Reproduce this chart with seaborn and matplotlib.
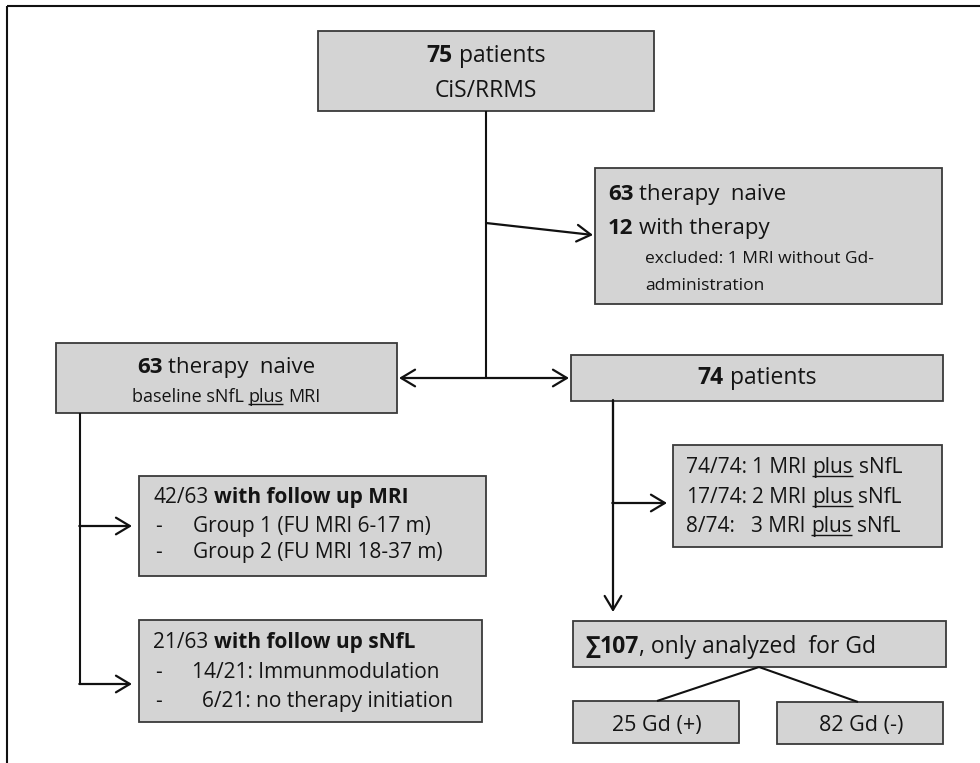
import matplotlib
matplotlib.use("Agg")
import matplotlib.pyplot as plt
import seaborn as sns
from matplotlib.patches import Rectangle, FancyArrowPatch

sns.set_theme(style="white")
plt.rcParams['font.family'] = ['Open Sans', 'DejaVu Sans']

# ---------------- data (counts shown in the flow chart) ----------------
total_patients = 75
cohort_label = "CiS/RRMS"
therapy_naive = 63
with_therapy = 12
analysed_patients = 74
fu_mri = 42
fu_snfl = 21
immunmodulation = 14
no_therapy = 6
mri_numbers = [1, 2, 3]
mri_patients = [74, 17, 8]
gd_total = 107
gd_positive = 25
gd_negative = 82
fu_groups = ["Group 1 (FU MRI 6-17 m)", "Group 2 (FU MRI 18-37 m)"]

# ---------------- styles ----------------
BOX_FC = "#d4d4d4"
BOX_EC = "#3a3a3a"
LINE_C = "#111111"
TXT_C = "#141414"

fig = plt.figure(figsize=(9.8, 7.63), dpi=100)
ax = fig.add_axes([0, 0, 1, 1])
ax.set_xlim(0, 980)
ax.set_ylim(763, 0)
ax.axis("off")
renderer = fig.canvas.get_renderer()
PX = 100 / 72.0


def text_width(s, size, bold):
    t = ax.text(0, 0, s, fontsize=size, fontweight="bold" if bold else "normal")
    w = t.get_window_extent(renderer).width
    t.remove()
    return w


def rich(x, baseline, parts, size, ha="left"):
    """parts: list of (leading_spaces, text, bold, underline)"""
    sp_reg = text_width("a a", size, False) - text_width("aa", size, False)
    widths = []
    for lead, s, b, u in parts:
        widths.append((lead * sp_reg, text_width(s, size, b)))
    total = sum(a + b for a, b in widths)
    cx = x - total / 2 if ha == "center" else x
    for (lead, s, b, u), (lw, w) in zip(parts, widths):
        cx += lw
        ax.text(cx, baseline, s, fontsize=size, fontweight="bold" if b else "normal",
                va="baseline", ha="left", color=TXT_C)
        if u:
            uy = baseline + 0.13 * size * PX
            ax.plot([cx, cx + w], [uy, uy], color=TXT_C, lw=1.0, solid_capstyle="butt")
        cx += w


def box(x0, y0, x1, y1):
    ax.add_patch(Rectangle((x0, y0), x1 - x0, y1 - y0, facecolor=BOX_FC,
                           edgecolor=BOX_EC, lw=1.3, zorder=1))


def line(p, q):
    ax.plot([p[0], q[0]], [p[1], q[1]], color=LINE_C, lw=1.5, solid_capstyle="butt", zorder=2)


def arrow(p, q, style="->"):
    ax.add_patch(FancyArrowPatch(p, q, arrowstyle=style + ",head_length=1.0,head_width=0.6",
                                 mutation_scale=10, color=LINE_C, lw=1.6,
                                 shrinkA=0, shrinkB=0, zorder=2))


# frame
line((7, 6), (980, 6))
line((7, 6), (7, 763))

# boxes
box(318, 31, 654, 111)
box(595, 168, 942, 304)
box(56, 343, 397, 413)
box(571, 355, 943, 401)
box(139, 476, 486, 576)
box(139, 620, 482, 722)
box(673, 445, 942, 547)
box(573, 621, 946, 667)
box(573, 701, 739, 743)
box(777, 702, 943, 744)

# connectors
line((486, 111), (486, 378))
arrow((486, 223), (593, 235))
arrow((399, 378), (569, 378), style="<->")
line((80, 413), (80, 684))
arrow((79.3, 526), (132, 526))
arrow((79.3, 684), (132, 684))
line((613, 401), (613, 503))
arrow((613, 400), (613, 612))
arrow((612.3, 503), (667, 503))
line((759, 667), (657, 701))
line((759, 667), (858, 702))

# texts
rich(486, 62, [(0, str(total_patients), True, False), (1, "patients", False, False)], 16.5, "center")
rich(486, 97, [(0, cohort_label, False, False)], 16.5, "center")

rich(608, 200, [(0, str(therapy_naive), True, False), (1, "therapy  naive", False, False)], 16)
rich(608, 234, [(0, str(with_therapy), True, False), (1, "with therapy", False, False)], 16)
rich(645, 263, [(0, "excluded: 1 MRI without Gd-", False, False)], 12.5)
rich(645, 290, [(0, "administration", False, False)], 12.5)

rich(226, 373, [(0, str(therapy_naive), True, False), (1, "therapy  naive", False, False)], 16, "center")
rich(226, 402, [(0, "baseline sNfL", False, False), (1, "plus", False, True), (1, "MRI", False, False)], 13, "center")

rich(757, 384, [(0, str(analysed_patients), True, False), (1, "patients", False, False)], 16.5, "center")

rich(153, 503, [(0, f"{fu_mri}/{therapy_naive}", False, False), (1, "with follow up MRI", True, False)], 15)
for yb, g in zip([532, 558], fu_groups):
    rich(155, yb, [(0, "-", False, False)], 15)
    rich(193, yb, [(0, g, False, False)], 15)

rich(153, 648, [(0, f"{fu_snfl}/{therapy_naive}", False, False), (1, "with follow up sNfL", True, False)], 15)
rich(155, 678, [(0, "-", False, False)], 15)
rich(192, 678, [(0, f"{immunmodulation}/{fu_snfl}: Immunmodulation", False, False)], 15)
rich(155, 707, [(0, "-", False, False)], 15)
rich(202, 707, [(0, f"{no_therapy}/{fu_snfl}: no therapy initiation", False, False)], 15)

for yb, n, k in zip([473, 503, 532], mri_patients, mri_numbers):
    lead = f"{n}/{analysed_patients}:"
    gap = 1 if len(str(n)) > 1 else 3
    rich(686, yb, [(0, lead, False, False), (gap, f"{k} MRI", False, False),
                   (1, "plus", False, True), (1, "sNfL", False, False)], 15)

rich(585, 653, [(0, "\u2211", True, False), (0, str(gd_total), True, False),
                (0, ", only analyzed  for Gd", False, False)], 16.5)
rich(657, 731, [(0, f"{gd_positive} Gd (+)", False, False)], 15.5, "center")
rich(861, 731, [(0, f"{gd_negative} Gd (-)", False, False)], 15.5, "center")

fig.savefig("out.png", dpi=100, facecolor="white")
